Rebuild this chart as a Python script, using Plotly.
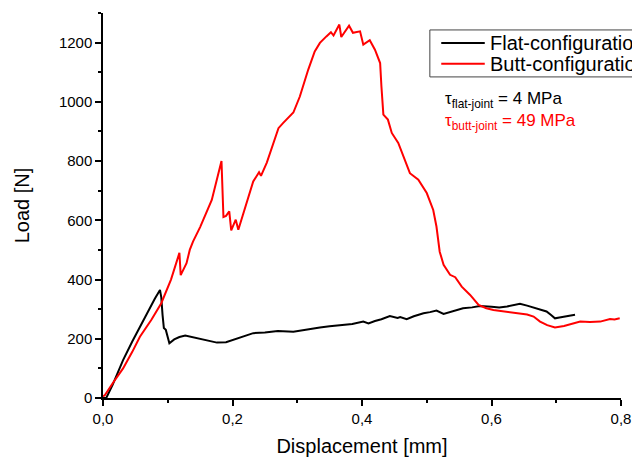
import plotly.graph_objects as go

# Flat-configuration (black)
flat_x = [0.0, 0.005, 0.015, 0.031, 0.045, 0.057, 0.070, 0.080, 0.088, 0.090, 0.092, 0.094, 0.097, 0.1025,
          0.110, 0.118, 0.127, 0.140, 0.150, 0.163, 0.176, 0.190, 0.200, 0.215, 0.232, 0.250, 0.270, 0.294,
          0.310, 0.320, 0.335, 0.350, 0.370, 0.385, 0.402, 0.410, 0.420, 0.430, 0.443, 0.455, 0.459, 0.469,
          0.480, 0.495, 0.505, 0.515, 0.526, 0.536, 0.546, 0.556, 0.570, 0.582, 0.600, 0.612, 0.624, 0.635,
          0.644, 0.655, 0.665, 0.675, 0.685, 0.692, 0.698, 0.705, 0.715, 0.729]
flat_y = [0, 0, 45, 128, 190, 241, 295, 335, 365, 340, 280, 236, 230, 185,
          198, 206, 211, 204, 200, 194, 187, 188, 195, 207, 219, 221, 226, 224,
          230, 232, 238, 242, 246, 250, 258, 252, 260, 266, 277, 270, 273, 266,
          276, 286, 290, 295, 284, 290, 298, 303, 306, 311, 308, 306, 309, 314,
          318, 312, 305, 300, 292, 280, 269, 272, 276, 281]

# Butt-configuration (red)
butt_x = [0.0, 0.003, 0.015, 0.031, 0.045, 0.057, 0.075, 0.090, 0.105, 0.118, 0.120, 0.129, 0.134,
          0.139, 0.150, 0.168, 0.183, 0.185, 0.186, 0.190, 0.195, 0.198, 0.202, 0.205, 0.209, 0.214,
          0.222, 0.232, 0.241, 0.244, 0.253, 0.262, 0.271, 0.278, 0.286, 0.294, 0.304, 0.317, 0.327,
          0.335, 0.345, 0.352, 0.356, 0.365, 0.368, 0.380, 0.386, 0.397, 0.402, 0.412, 0.420, 0.428,
          0.430, 0.433, 0.440, 0.446, 0.456, 0.464, 0.474, 0.487, 0.500, 0.510, 0.515, 0.520, 0.526,
          0.536, 0.544, 0.554, 0.567, 0.580, 0.592, 0.603, 0.618, 0.639, 0.655, 0.665, 0.675, 0.686,
          0.698, 0.712, 0.725, 0.737, 0.752, 0.768, 0.783, 0.790, 0.798]
butt_y = [5, 10, 50, 100, 155, 207, 265, 320, 400, 490, 415, 455, 500,
          528, 577, 669, 800, 703, 611, 615, 630, 566, 590, 602, 568, 604,
          665, 731, 762, 750, 795, 850, 911, 928, 945, 964, 1018, 1109, 1170,
          1199, 1221, 1235, 1224, 1261, 1219, 1257, 1233, 1238, 1193, 1208, 1176, 1131,
          1052, 957, 940, 895, 861, 816, 759, 737, 692, 635, 579, 494, 450,
          416, 408, 376, 348, 314, 303, 297, 292, 286, 282, 275, 258, 246,
          238, 243, 250, 258, 257, 258, 267, 265, 269]

series_names = ["Flat-configuration", "Butt-configuration"]
series_colors = ["black", "#ff0000"]

x_ticks = [0.0, 0.2, 0.4, 0.6, 0.8]
y_ticks = [0, 200, 400, 600, 800, 1000, 1200]

font_family = "Liberation Sans, Arial, sans-serif"

fig = go.Figure()
fig.add_trace(go.Scatter(x=flat_x, y=flat_y, mode="lines", name=series_names[0],
                         line=dict(color=series_colors[0], width=2)))
fig.add_trace(go.Scatter(x=butt_x, y=butt_y, mode="lines", name=series_names[1],
                         line=dict(color=series_colors[1], width=2)))

# Manual legend (the original's legend box runs past the right edge of the image)
shapes = [
    dict(type="rect", xref="paper", yref="paper", x0=0.631, x1=1.2, y0=0.834, y1=0.956,
         line=dict(color="#444", width=1), fillcolor="white", layer="above"),
]
annotations = []
legend_rows = [0.922, 0.868]
for name, color, yy in zip(series_names, series_colors, legend_rows):
    shapes.append(dict(type="line", xref="paper", yref="paper", x0=0.653, x1=0.737, y0=yy, y1=yy,
                       line=dict(color=color, width=2), layer="above"))
    annotations.append(dict(x=0.744, y=yy, xref="paper", yref="paper", xanchor="left", yanchor="middle",
                            text=name, showarrow=False,
                            font=dict(size=20, color="black", family=font_family)))

annotations += [
    dict(x=0.656, y=0.774, xref="paper", yref="paper", xanchor="left", yanchor="middle",
         text="τ<sub>flat-joint</sub> = 4 MPa", showarrow=False,
         font=dict(size=17, color="black", family=font_family)),
    dict(x=0.656, y=0.717, xref="paper", yref="paper", xanchor="left", yanchor="middle",
         text="τ<sub>butt-joint</sub> = 49 MPa", showarrow=False,
         font=dict(size=17, color="#ff0000", family=font_family)),
]

fig.update_layout(
    width=632, height=459,
    margin=dict(l=103, r=11, t=13, b=61, autoexpand=False),
    paper_bgcolor="white", plot_bgcolor="white",
    separators=",.",
    font=dict(family=font_family, color="black", size=15),
    showlegend=False,
    shapes=shapes,
    annotations=annotations,
)

fig.update_xaxes(
    range=[0, 0.8], tickvals=x_ticks, tickformat=".1f",
    showline=True, linecolor="black", linewidth=1.5, mirror=False,
    ticks="outside", ticklen=6, tickwidth=1.5, tickcolor="black",
    minor=dict(ticks="outside", dtick=0.1, ticklen=3, tickwidth=1.5, tickcolor="black", showgrid=False),
    showgrid=False, zeroline=False, automargin=False,
    title=dict(text="Displacement [mm]", font=dict(size=20), standoff=13),
    tickfont=dict(size=15),
)
fig.update_yaxes(
    range=[0, 1300], tickvals=y_ticks,
    showline=True, linecolor="black", linewidth=1.5, mirror=False,
    ticks="outside", ticklen=6, tickwidth=1.5, tickcolor="black",
    minor=dict(ticks="outside", dtick=100, ticklen=3, tickwidth=1.5, tickcolor="black", showgrid=False),
    showgrid=False, zeroline=False, automargin=False,
    title=dict(text="Load [N]", font=dict(size=20), standoff=24),
    tickfont=dict(size=15),
)

fig.write_html("out.html",
               config={"displayModeBar": False},
               post_script="document.body.style.margin='0';document.body.style.overflow='hidden';")
